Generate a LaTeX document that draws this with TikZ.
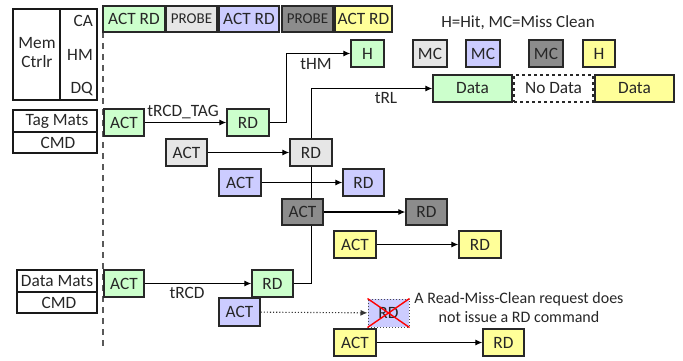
\documentclass[tikz,border=0pt]{standalone}
\usepackage{fontspec}
\setmainfont{Carlito}
\usetikzlibrary{arrows.meta}
\definecolor{cgreen}{RGB}{204,255,204}
\definecolor{clight}{RGB}{230,230,230}
\definecolor{cblue}{RGB}{204,204,255}
\definecolor{cdark}{RGB}{140,140,140}
\definecolor{cyel}{RGB}{255,255,153}
\definecolor{cline}{RGB}{40,40,40}
\tikzset{
  bx/.style={draw=cline, line width=1.3pt, inner sep=0pt, minimum height=27pt, minimum width=41pt,
    font=\fontsize{17.3}{19}\selectfont, text=black!85},
  lbl/.style={inner sep=0pt, font=\fontsize{17.3}{19}\selectfont, text=black!85},
  note/.style={inner sep=0pt, font=\fontsize{16}{19}\selectfont, text=black!85, align=center},
  probe/.style={font=\fontsize{15}{17}\selectfont},
  frame/.style={draw=black!90, line width=1.5pt},
  conn/.style={draw=black, line width=1.1pt, -{Latex[length=7pt,width=6pt]}},
  dotconn/.style={draw=black!80, line width=1.1pt, dotted, -{Latex[length=7pt,width=6pt]}},
}
\begin{document}
\begin{tikzpicture}[x=1pt,y=-1pt]
\useasboundingbox (0,0) rectangle (683,360);
% left frames
\draw[frame] (13,9) rectangle (97,100);
\draw[frame] (60,9) -- (60,100);
\node[lbl, align=center] (memctrl) at (37,53) {Mem\\Ctrlr};
\node[lbl, anchor=east] (ca) at (93,21) {CA};
\node[lbl, anchor=east] (hm) at (93,55) {HM};
\node[lbl, anchor=east] (dq) at (93,89) {DQ};
\draw[frame] (13,110) rectangle (97,153);
\draw[frame] (13,132) -- (97,132);
\node[lbl] (tagmats) at (57,121) {Tag Mats};
\node[lbl] (tagcmd) at (58,142.5) {CMD};
\draw[frame] (17,270) rectangle (97,313);
\draw[frame] (17,292) -- (97,292);
\node[lbl] (datamats) at (57,281) {Data Mats};
\node[lbl] (datacmd) at (59,302.5) {CMD};
% dashed timeline
\draw[black!65, line width=1.2pt, dash pattern=on 6pt off 5pt] (103,32) -- (103,348);
% top command row
\node[bx, fill=cgreen, minimum width=62pt, minimum height=26pt] (t1) at (134,19) {ACT RD};
\node[bx, fill=clight, minimum width=51pt, minimum height=26pt, probe] (t2) at (191.5,19) {PROBE};
\node[bx, fill=cblue, minimum width=60pt, minimum height=26pt] (t3) at (249,19) {ACT RD};
\node[bx, fill=cdark, minimum width=51pt, minimum height=26pt, probe] (t4) at (307.5,19) {PROBE};
\node[bx, fill=cyel, minimum width=57pt, minimum height=26pt] (t5) at (363.5,19) {ACT RD};
% legend
\node[note, font=\fontsize{17}{19}\selectfont] (legend) at (518,23) {H=Hit, MC=Miss Clean};
% long connectors first (drawn behind boxes)
\node[bx, fill=cgreen, minimum width=42pt] (rdtag) at (248,122.5) {RD};
\node[bx, fill=cgreen, minimum width=33pt] (hg) at (367.5,53.5) {H};
\node[bx, fill=cgreen, minimum width=41pt] (rddata) at (272.5,283.5) {RD};
\node[bx, fill=cgreen, minimum width=79pt] (datag) at (472.5,88.5) {Data};
\draw[conn] (rdtag.east) -- ++(17,0) |- (hg.west);
\draw[conn] (rddata.east) -- ++(17.5,0) |- (datag.west);
\node[lbl] (thm) at (316,64) {tHM};
\node[lbl] (trl) at (386,98) {tRL};
% hit/miss row
\node[bx, fill=clight, minimum width=34pt] (mc1) at (430,53.5) {MC};
\node[bx, fill=cblue, minimum width=34pt] (mc2) at (483,53.5) {MC};
\node[bx, fill=cdark, minimum width=34pt] (mc3) at (546,53.5) {MC};
\node[bx, fill=cyel, minimum width=32pt] (hy) at (599,53.5) {H};
\node[bx, fill=white, dashed, minimum width=79pt] (nodata) at (553.5,88.5) {No Data};
\node[bx, fill=cyel, minimum width=79pt] (datay) at (634.5,88.5) {Data};
% tag mats commands
\node[bx, fill=cgreen, minimum width=40pt] (acttag) at (124,122.5) {ACT};
\draw[conn] (acttag) -- (rdtag);
\node[lbl] (trcdtag) at (183,112) {tRCD\_TAG};
\node[bx, fill=clight] (actl) at (186.5,152.5) {ACT};
\node[bx, fill=clight, minimum width=42pt] (rdl) at (311,152.5) {RD};
\draw[conn] (actl) -- (rdl);
\node[bx, fill=cblue, minimum width=42pt] (actb) at (240,182.5) {ACT};
\node[bx, fill=cblue] (rdb) at (363.5,182.5) {RD};
\draw[conn] (actb) -- (rdb);
\node[bx, fill=cdark, minimum height=26pt] (actd) at (302.5,212) {ACT};
\node[bx, fill=cdark, minimum height=26pt] (rdd) at (426.5,212) {RD};
\draw[conn] (actd) -- (rdd);
\node[bx, fill=cyel, minimum width=42pt] (acty) at (355,244.5) {ACT};
\node[bx, fill=cyel, minimum width=42pt] (rdy) at (480,244.5) {RD};
\draw[conn] (acty) -- (rdy);
% data mats commands
\node[bx, fill=cgreen, minimum width=40pt] (actdata) at (124,283.5) {ACT};
\draw[conn] (actdata) -- (rddata);
\node[lbl] (trcd) at (187,293) {tRCD};
\node[bx, fill=cblue, minimum height=28pt] (actbd) at (239.5,312) {ACT};
\node[bx, fill=cblue, draw=black!70, line width=1pt, dotted, minimum height=28pt] (rdx) at (388.5,313) {RD};
\draw[red, line width=1.4pt] (rdx.north west) -- (rdx.south east);
\draw[red, line width=1.4pt] (rdx.north east) -- (rdx.south west);
\draw[dotconn] (actbd) -- (rdx);
\node[note] (note) at (519,307.5) {A Read-Miss-Clean request does\\not issue a RD command};
\node[bx, fill=cyel, minimum width=42pt] (actyd) at (355,342.5) {ACT};
\node[bx, fill=cyel] (rdyd) at (503.5,342.5) {RD};
\draw[conn] (actyd) -- (rdyd);
\end{tikzpicture}
\end{document}
